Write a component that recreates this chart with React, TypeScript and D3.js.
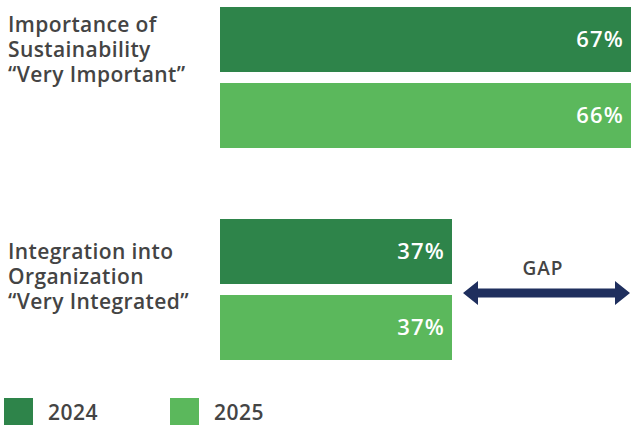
import React from "react";
import * as d3 from "d3";

const categories = ["Importance of Sustainability", "Integration into Organization"];
const categoryLines = [
  ["Importance of", "Sustainability", "\u201CVery Important\u201D"],
  ["Integration into", "Organization", "\u201CVery Integrated\u201D"],
];
const seriesNames = ["2024", "2025"];
const values2024 = [67, 37];
const values2025 = [66, 37];
const gapLabel = "GAP";

const W = 631;
const H = 425;
const colors = ["#2E844A", "#5BB85C"];
const textColor = "#444444";
const font = "'Open Sans', 'Noto Sans', sans-serif";

export default function App() {
  const series = [values2024, values2025];
  const yG = d3.scaleBand<string>().domain(categories).range([7, 7 + 212 + 141]).paddingInner(71 / 212);
  const y1 = d3.scaleBand<string>().domain(seriesNames).range([0, yG.bandwidth()]).paddingInner(11 / 76);
  const x = d3.scaleLinear().domain([0, 100]).range([220, 847]);
  const labelBaseline = [25, 40];

  const arrowY = 293;
  const ax0 = 463, ax1 = 630;
  const head = 15, headH = 12, shaft = 4.5;
  const arrowPath = d3.path();
  arrowPath.moveTo(ax0, arrowY);
  arrowPath.lineTo(ax0 + head, arrowY - headH);
  arrowPath.lineTo(ax0 + head, arrowY - shaft);
  arrowPath.lineTo(ax1 - head, arrowY - shaft);
  arrowPath.lineTo(ax1 - head, arrowY - headH);
  arrowPath.lineTo(ax1, arrowY);
  arrowPath.lineTo(ax1 - head, arrowY + headH);
  arrowPath.lineTo(ax1 - head, arrowY + shaft);
  arrowPath.lineTo(ax0 + head, arrowY + shaft);
  arrowPath.lineTo(ax0 + head, arrowY + headH);
  arrowPath.closePath();

  return (
    <svg width={W} height={H} style={{ position: "absolute", left: 0, top: 0 }} fontFamily={font}>
      {categories.map((c, ci) => (
        <g key={c}>
          {categoryLines[ci].map((l, li) => (
            <text
              key={li}
              x={8}
              y={(yG(c) as number) + labelBaseline[ci] + li * 25}
              fill={textColor}
              fontSize={21}
              fontWeight={600}
              letterSpacing={0.4}
            >
              {l}
            </text>
          ))}
          {seriesNames.map((s, si) => {
            const v = series[si][ci];
            const yy = (yG(c) as number) + (y1(s) as number);
            const xe = Math.min(x(v), W);
            return (
              <g key={s}>
                <rect x={x(0)} y={yy} width={x(v) - x(0)} height={y1.bandwidth()} fill={colors[si]} />
                <text
                  x={xe - 7}
                  y={yy + y1.bandwidth() / 2}
                  dy="0.36em"
                  textAnchor="end"
                  fill="#ffffff"
                  fontSize={22}
                  fontWeight={600}
                  letterSpacing={1.2}
                >
                  {v}%
                </text>
              </g>
            );
          })}
        </g>
      ))}
      <text x={543} y={275} textAnchor="middle" fill={textColor} fontSize={19} fontWeight={600} letterSpacing={1}>
        {gapLabel}
      </text>
      <path d={arrowPath.toString()} fill="#1F2F5E" />
      {seriesNames.map((s, si) => (
        <g key={s} transform={`translate(${4 + si * 166},398)`}>
          <rect x={0} y={0} width={29} height={27} fill={colors[si]} />
          <text x={44} y={22} fill={textColor} fontSize={21} fontWeight={600} letterSpacing={0.5}>
            {s}
          </text>
        </g>
      ))}
    </svg>
  );
}
